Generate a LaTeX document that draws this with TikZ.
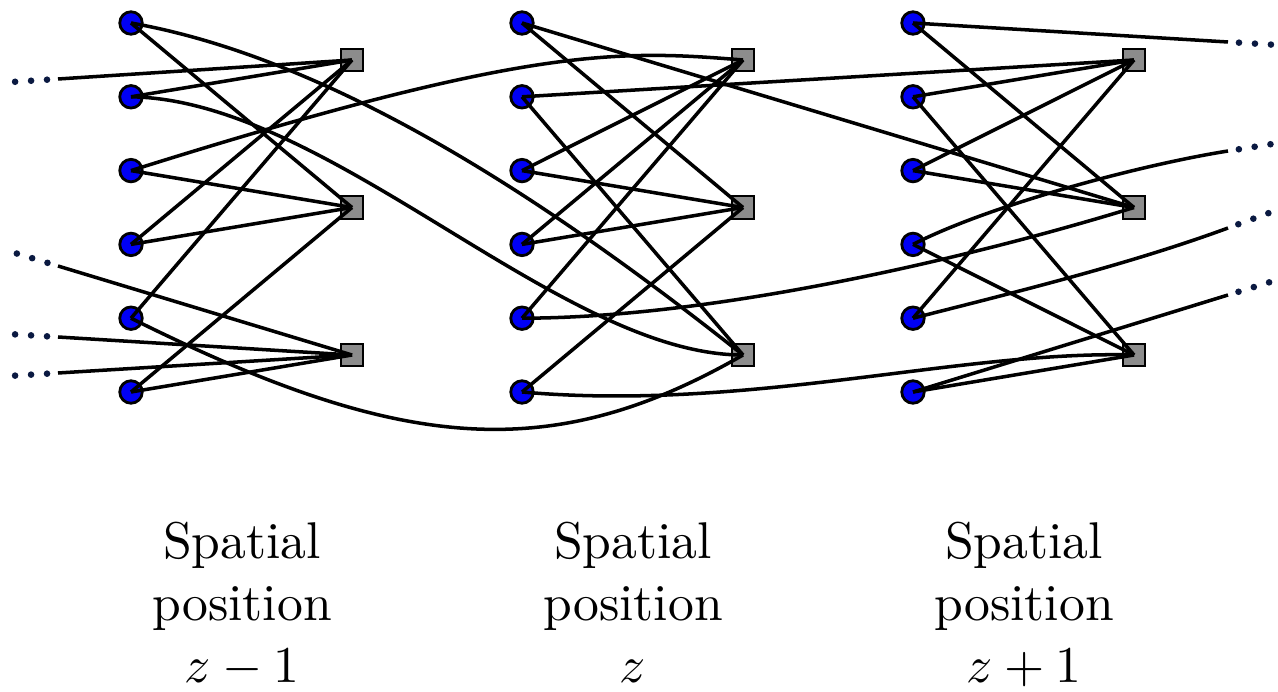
\RequirePackage{fix-cm}
\documentclass[tikz,border=0pt]{standalone}
\usepackage{amsmath}
\usetikzlibrary{calc}
\definecolor{varblue}{RGB}{0,0,245}
\definecolor{dotnavy}{RGB}{10,25,65}

\tikzset{
  var/.style={circle,draw=black,fill=varblue,line width=1.6pt,minimum size=0.45cm,inner sep=0pt},
  chk/.style={rectangle,draw=black,fill=black!45,line width=1pt,minimum size=0.45cm,inner sep=0pt},
  edge/.style={line width=2pt,black},
  poslabel/.style={align=center,anchor=north,inner sep=0pt,scale=2.94,font=\normalsize}
}
% three dots carrying a line on past its free end
\newcommand{\trail}[2]{%
  \foreach \d in {0.22,0.54,0.86}
    \fill[dotnavy] ($(#2)!-\d cm!(#1)$) circle (0.066cm);}

\begin{document}
\begin{tikzpicture}[x=0.02cm,y=-0.02cm]
	\useasboundingbox (0,0) rectangle (1278,692);
	% variable and check nodes of the three positions
	\foreach \g/\x/\pos in {0/131/z-1,1/522/z,2/913/z+1} {
		\foreach \i in {1,...,6}
			\node[var] (v\g\i) at (\x,{23+73.8*(\i-1)}) {};
		\foreach \j in {1,2,3}
			\node[chk] (c\g\j) at (\x+221,{60+147.5*(\j-1)}) {};
		\node[poslabel] (lab\g) at (\x+111,521) {Spatial\\position\\$\pos$};
	}
	% straight edges
	\foreach \a/\b in {v01/c02,v02/c01,v03/c02,v04/c01,v04/c02,v05/c01,v06/c02,v06/c03,
		v11/c12,v11/c22,v12/c21,v12/c13,v13/c11,v13/c12,v14/c11,v14/c12,v15/c11,v16/c12,
		v21/c22,v22/c21,v22/c23,v23/c21,v23/c22,v24/c23,v25/c21,v26/c23}
		\draw[edge] (\a.center) -- (\b.center);
	% bent edges into the next position
	\draw[edge] (v01.center) .. controls (340,60) and (560,210) .. (c13.center);
	\draw[edge] (v02.center) .. controls (330,100) and (560,355) .. (c13.center);
	\draw[edge] (v03.center) .. controls (530,45) and (620,50) .. (c11.center);
	\draw[edge] (v05.center) .. controls (400,452) and (550,466) .. (c13.center);
	\draw[edge] (v15.center) .. controls (720,318) and (980,255) .. (c22.center);
	\draw[edge] (v16.center) .. controls (750,412) and (960,350) .. (c23.center);
	% edges from the left
	\coordinate (l1) at (58,79);
	\coordinate (l2) at (58,266);
	\coordinate (l3) at (58,337);
	\coordinate (l4) at (58,373);
	\draw[edge] (l1) -- (c01.center);
	\foreach \k in {2,3,4}
		\draw[edge] (l\k) -- (c03.center);
	\trail{c01}{l1}
	\trail{c03}{l2}
	\trail{c03}{l3}
	\trail{c03}{l4}
	% edges to the right
	\coordinate (r1) at (1228,42);
	\coordinate (r2) at (1228,151);
	\coordinate (r3) at (1228,228);
	\coordinate (r4) at (1228,295);
	\coordinate (r2c) at (1140,165);
	\coordinate (r3c) at (1130,264);
	\draw[edge] (v21.center) -- (r1);
	\draw[edge] (v24.center) .. controls (990,205) and (r2c) .. (r2);
	\draw[edge] (v25.center) .. controls (1020,291) and (r3c) .. (r3);
	\draw[edge] (v26.center) -- (r4);
	\trail{v21}{r1}
	\trail{r2c}{r2}
	\trail{r3c}{r3}
	\trail{v26}{r4}
\end{tikzpicture}
\end{document}
